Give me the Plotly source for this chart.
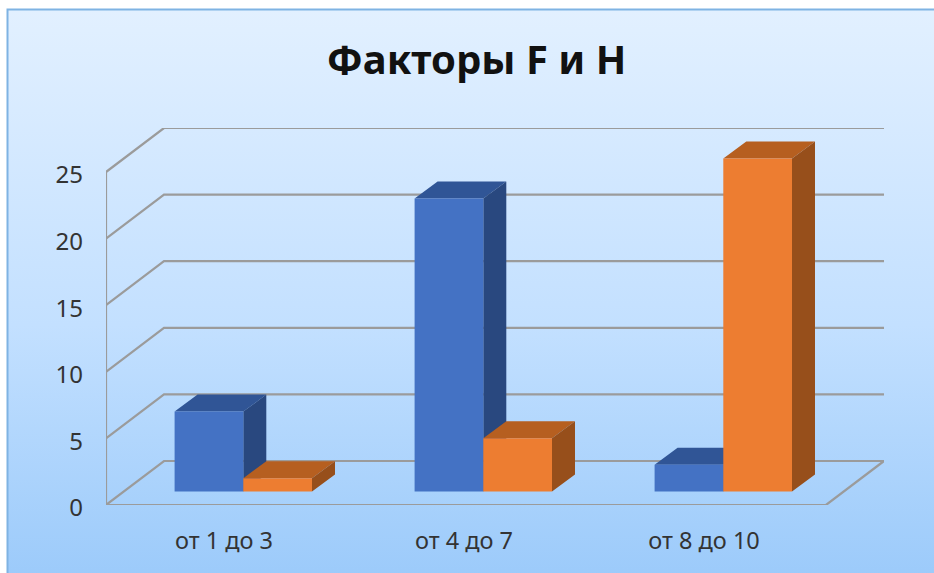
import base64
import plotly.graph_objects as go

categories = ["от 1 до 3", "от 4 до 7", "от 8 до 10"]
factor_f = [6, 22, 2]
factor_h = [1, 4, 25]
y_ticks = [0, 5, 10, 15, 20, 25]
title_text = "Факторы F и H"

W, H = 934, 573
ML, MR, MT, MB = 106, 50, 128, 68
CAT_PX = 240.0
UNIT_PX = 13.32
WALL_DX, WALL_DY = 58 / CAT_PX, 44 / UNIT_PX
BAR_DX, BAR_DY = 23 / CAT_PX, 17 / UNIT_PX
BAR_W = 68.7 / CAT_PX
BAR_SHIFT = 17.3 / CAT_PX
BAR_BASE = 13.5 / UNIT_PX
GRID = "#9b9b9b"
FONT = "Noto Sans"

positions = list(range(len(categories)))
x_left, x_right = -0.5, len(categories) - 0.5

fig = go.Figure()

# wall and floor lines
gx, gy = [], []
for v in y_ticks:
    gx += [x_left, x_left + WALL_DX, x_right + WALL_DX, None]
    gy += [v, v + WALL_DY, v + WALL_DY, None]
gx += [x_left, x_left, None, x_left, x_right, x_right + WALL_DX]
gy += [y_ticks[0], y_ticks[-1], None, 0, 0, WALL_DY]
fig.add_trace(go.Scatter(x=gx, y=gy, mode="lines", line=dict(color=GRID, width=2.2),
                         cliponaxis=False, hoverinfo="skip", showlegend=False, zorder=0))


def add_series(name, values, start, front, top, side, z):
    tx, ty, sx, sy = [], [], [], []
    xc = [p + BAR_SHIFT for p in positions]
    for c, v in zip(xc, values):
        x0 = c + start
        x1 = x0 + BAR_W
        h = BAR_BASE + v
        tx += [x0, x1, x1 + BAR_DX, x0 + BAR_DX, x0, None]
        ty += [h, h, h + BAR_DY, h + BAR_DY, h, None]
        sx += [x1, x1, x1 + BAR_DX, x1 + BAR_DX, x1, None]
        sy += [BAR_BASE, h, h + BAR_DY, BAR_BASE + BAR_DY, BAR_BASE, None]
    for px, py, col in ((tx, ty, top), (sx, sy, side)):
        fig.add_trace(go.Scatter(x=px, y=py, mode="lines", fill="toself", fillcolor=col,
                                 line=dict(width=0, color=col), hoverinfo="skip",
                                 cliponaxis=False, showlegend=False, zorder=z))
    fig.add_trace(go.Bar(x=xc, y=values, base=BAR_BASE, width=BAR_W, offset=start, name=name,
                         marker=dict(color=front, line=dict(width=0)), showlegend=False,
                         zorder=z + 1))


add_series("F", factor_f, -BAR_W, "#4472c4", "#305596", "#29487f", 1)
add_series("H", factor_h, 0, "#ed7d31", "#b65f20", "#974f1b", 3)

svg = (
    f'<svg xmlns="http://www.w3.org/2000/svg" width="{W}" height="{H}" preserveAspectRatio="none">'
    '<defs><linearGradient id="g" x1="0" y1="0" x2="0" y2="1">'
    '<stop offset="0" stop-color="#e2f0ff"/><stop offset="0.55" stop-color="#c3e0ff"/>'
    '<stop offset="1" stop-color="#9bcafa"/></linearGradient></defs>'
    f'<rect x="7.5" y="9.5" width="{W}" height="{H}" fill="url(#g)" stroke="#7fb3e3" stroke-width="2"/>'
    '</svg>'
)
src = "data:image/svg+xml;base64," + base64.b64encode(svg.encode()).decode()
plot_w, plot_h = W - ML - MR, H - MT - MB

fig.update_layout(
    width=W, height=H, autosize=False,
    margin=dict(l=ML, r=MR, t=MT, b=MB, pad=0),
    paper_bgcolor="white", plot_bgcolor="rgba(0,0,0,0)",
    barmode="overlay", showlegend=False,
    font=dict(family=FONT, color="#333333"),
    title=dict(text=f"<b>{title_text}</b>", x=476.5 / W, y=1 - 60 / H, xanchor="center", yanchor="middle",
               font=dict(family=FONT, size=40, color="#111111")),
    xaxis=dict(range=[x_left, x_right + WALL_DX], tickmode="array", tickvals=positions, ticktext=categories,
               showgrid=False, zeroline=False, showline=False, ticks="", ticklabelstandoff=19,
               ticklabelshift=-2, tickfont=dict(size=23.5, color="#333333")),
    yaxis=dict(range=[0, y_ticks[-1] + WALL_DY], tickmode="array", tickvals=y_ticks,
               showgrid=False, zeroline=False, showline=False, ticks="", ticklabelstandoff=22,
               ticklabelshift=3, tickfont=dict(size=24, color="#333333")),
    images=[dict(source=src, xref="paper", yref="paper", x=-ML / plot_w, y=1 + MT / plot_h,
                 sizex=W / plot_w, sizey=H / plot_h, xanchor="left", yanchor="top",
                 sizing="stretch", layer="below")],
)

fig.write_html("out.html", post_script="document.body.style.margin='0';",
               config={"displayModeBar": False})
